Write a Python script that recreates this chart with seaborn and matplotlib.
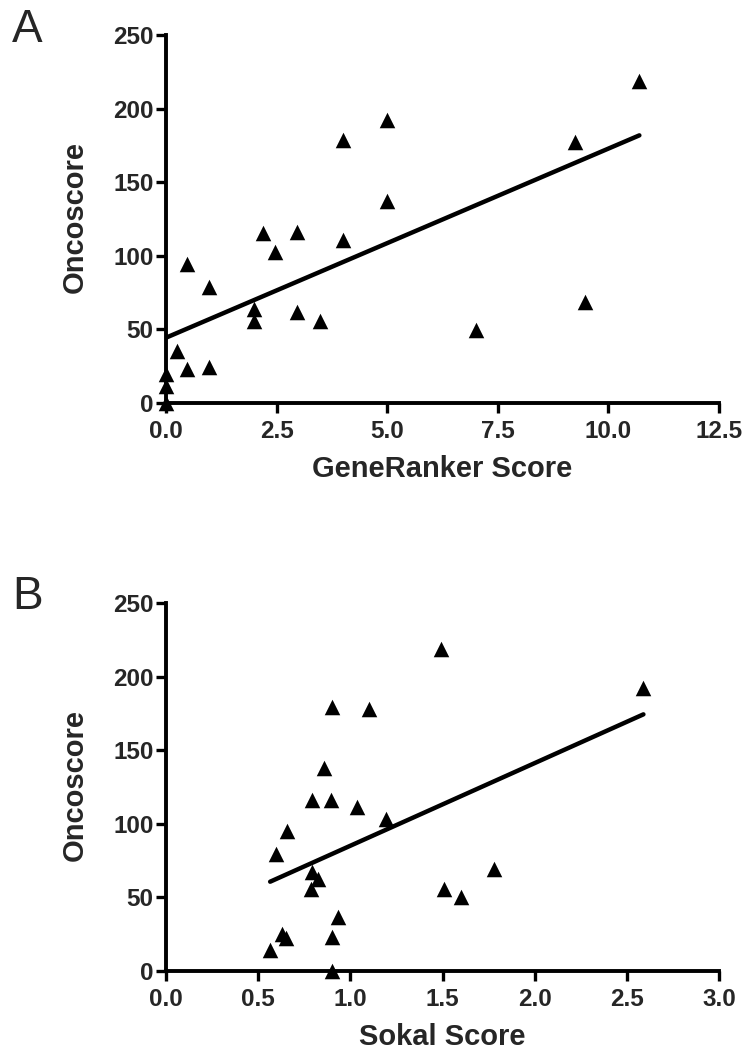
import numpy as np
import pandas as pd
import matplotlib
matplotlib.use("Agg")
import matplotlib.pyplot as plt
import seaborn as sns

# Panel A data: GeneRanker score vs Oncoscore
generanker = [10.7, 5.0, 4.0, 9.25, 5.0, 2.2, 2.95, 4.0, 2.47, 0.48, 0.97, 1.98,
              2.0, 2.97, 3.48, 9.48, 7.0, 0.25, 0.48, 0.97, 0.0, 0.0, 0.0]
onco_a = [219, 192, 179, 177.5, 137.5, 115.5, 116, 110.5, 102.5, 94.5, 79, 64,
          55.5, 62, 55.5, 68.5, 49.5, 35.5, 23, 24.5, 19.5, 11.5, 0]

# Panel B data: Sokal score vs Oncoscore
sokal = [1.49, 2.59, 0.90, 1.10, 0.855, 0.79, 0.895, 1.035, 1.195, 0.655, 0.595,
         0.79, 0.825, 0.785, 1.78, 1.51, 1.60, 0.935, 0.90, 0.63, 0.65, 0.565, 0.90]
onco_b = [219, 192.5, 179.5, 178, 138, 116, 116.5, 111.5, 103, 95, 79.5,
          67, 62.5, 56, 69.5, 56, 50.5, 37, 23, 25, 22.5, 14, 0]

xticks_a = [0.0, 2.5, 5.0, 7.5, 10.0, 12.5]
xticks_b = [0.0, 0.5, 1.0, 1.5, 2.0, 2.5, 3.0]
yticks = [0, 50, 100, 150, 200, 250]

sns.set_style("ticks")
plt.rcParams['font.family'] = ['Liberation Sans', 'DejaVu Sans']

W, H = 748, 1057
fig = plt.figure(figsize=(W / 100, H / 100), dpi=100)

def axes_px(x0, y0, x1, y1):
    return fig.add_axes([x0 / W, 1 - y1 / H, (x1 - x0) / W, (y1 - y0) / H])

ax_a = axes_px(166, 35, 719, 403)
ax_b = axes_px(166, 603, 719, 971)

def panel(ax, x, y, xticks, xlim, xlabel, letter, letter_y):
    df = pd.DataFrame({"x": x, "y": y})
    sns.regplot(data=df, x="x", y="y", ax=ax, ci=None, marker="^", color="black",
                scatter_kws=dict(s=125, linewidths=0, alpha=1, clip_on=False, zorder=3),
                line_kws=dict(lw=3.2, color="black", solid_capstyle="round"))
    ax.set_xlim(*xlim)
    ax.set_ylim(0, 250)
    ax.set_xticks(xticks)
    ax.set_xticklabels([f"{t:.1f}" for t in xticks])
    ax.set_yticks(yticks)
    ax.set_yticklabels([str(t) for t in yticks])
    for sp in ["top", "right"]:
        ax.spines[sp].set_visible(False)
    for sp in ["left", "bottom"]:
        ax.spines[sp].set_linewidth(2.8)
        ax.spines[sp].set_color("black")
        ax.spines[sp].set_capstyle("projecting")
    ax.tick_params(axis="both", direction="out", length=7, width=2.4, color="black",
                   labelsize=17.5)
    ax.tick_params(axis="x", pad=5)
    ax.tick_params(axis="y", pad=2)
    for lab in ax.get_xticklabels() + ax.get_yticklabels():
        lab.set_fontweight("bold")
    ax.set_xlabel(xlabel, fontsize=21, fontweight="bold")
    ax.set_ylabel("Oncoscore", fontsize=21, fontweight="bold")
    ax.xaxis.set_label_coords(0.5, -0.140)
    ax.yaxis.set_label_coords(-0.139, 0.505)
    ax.set_facecolor("white")
    fig.text(12 / W, 1 - letter_y / H, letter, fontsize=33, ha="left", va="top")

panel(ax_a, generanker, onco_a, xticks_a, (0, 12.5), "GeneRanker Score", "A", 8)
panel(ax_b, sokal, onco_b, xticks_b, (0, 3.0), "Sokal Score", "B", 575)

fig.savefig("out.png", dpi=100, facecolor="white")
